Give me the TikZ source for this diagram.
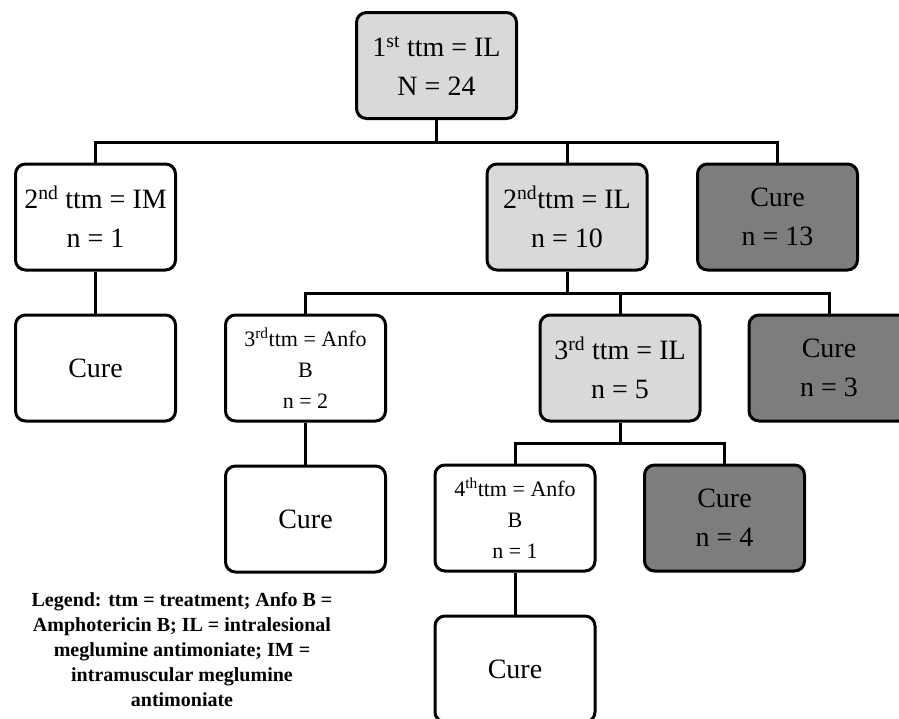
\documentclass[tikz,border=0pt]{standalone}
\usepackage{fontspec}
\setmainfont{Liberation Serif}
\usetikzlibrary{positioning}

\begin{document}
\begin{tikzpicture}[
  x=1pt,y=-1pt,
  node distance=42pt,
  font=\fontsize{28}{39}\selectfont,
  box/.style={draw,line width=3pt,rounded corners=10pt,align=center,inner sep=0pt,minimum width=160pt,minimum height=106pt},
  pale/.style={box,fill=black!15},
  dark/.style={box,fill=black!51},
  small/.style={box,font=\fontsize{22}{31}\selectfont},
  link/.style={line width=3pt}
]
\useasboundingbox (0,0) rectangle (899,718);
\clip (0,0) rectangle (899,718);

\node[pale] (t) at (436.5,65.5) {1\textsuperscript{st} ttm = IL\\ N = 24};

\node[box] (a) at (95.5,217) {2\textsuperscript{nd} ttm = IM\\ n = 1};
\node[pale] (b) at (567,217) {2\textsuperscript{nd}ttm = IL\\ n = 10};
\node[dark] (c) at (777.5,217) {Cure\\ n = 13};
\node[box,below=of a] (ca) {Cure};

\node[small] (d) at (305.5,368) {3\textsuperscript{rd}ttm = Anfo\\ B\\ n = 2};
\node[pale] (e) at (620,368) {3\textsuperscript{rd} ttm = IL\\ n = 5};
\node[dark] (f) at (829,368) {Cure\\ n = 3};
\node[box,below=of d] (cd) {Cure};

\node[small] (g) at (515,518) {4\textsuperscript{th}ttm = Anfo\\ B\\ n = 1};
\node[dark] (h) at (724.5,518) {Cure\\ n = 4};
\node[box,below=of g] (cg) {Cure};

\node[align=center,font=\fontsize{20}{25}\selectfont\bfseries] (leg) at (182,650)
  {Legend: ttm = treatment; Anfo B =\\ Amphotericin B; IL = intralesional\\ meglumine antimoniate; IM =\\ intramuscular meglumine\\ antimoniate};

\foreach \x in {a,b,c} \draw[link] (t.south) -- ++(0,22) -| (\x.north);
\foreach \x in {d,e,f} \draw[link] (b.south) -- ++(0,22) -| (\x.north);
\foreach \x in {g,h} \draw[link] (e.south) -- ++(0,21) -| (\x.north);
\foreach \x/\y in {a/ca,d/cd,g/cg} \draw[link] (\x.south) -- (\y.north);
\end{tikzpicture}
\end{document}
